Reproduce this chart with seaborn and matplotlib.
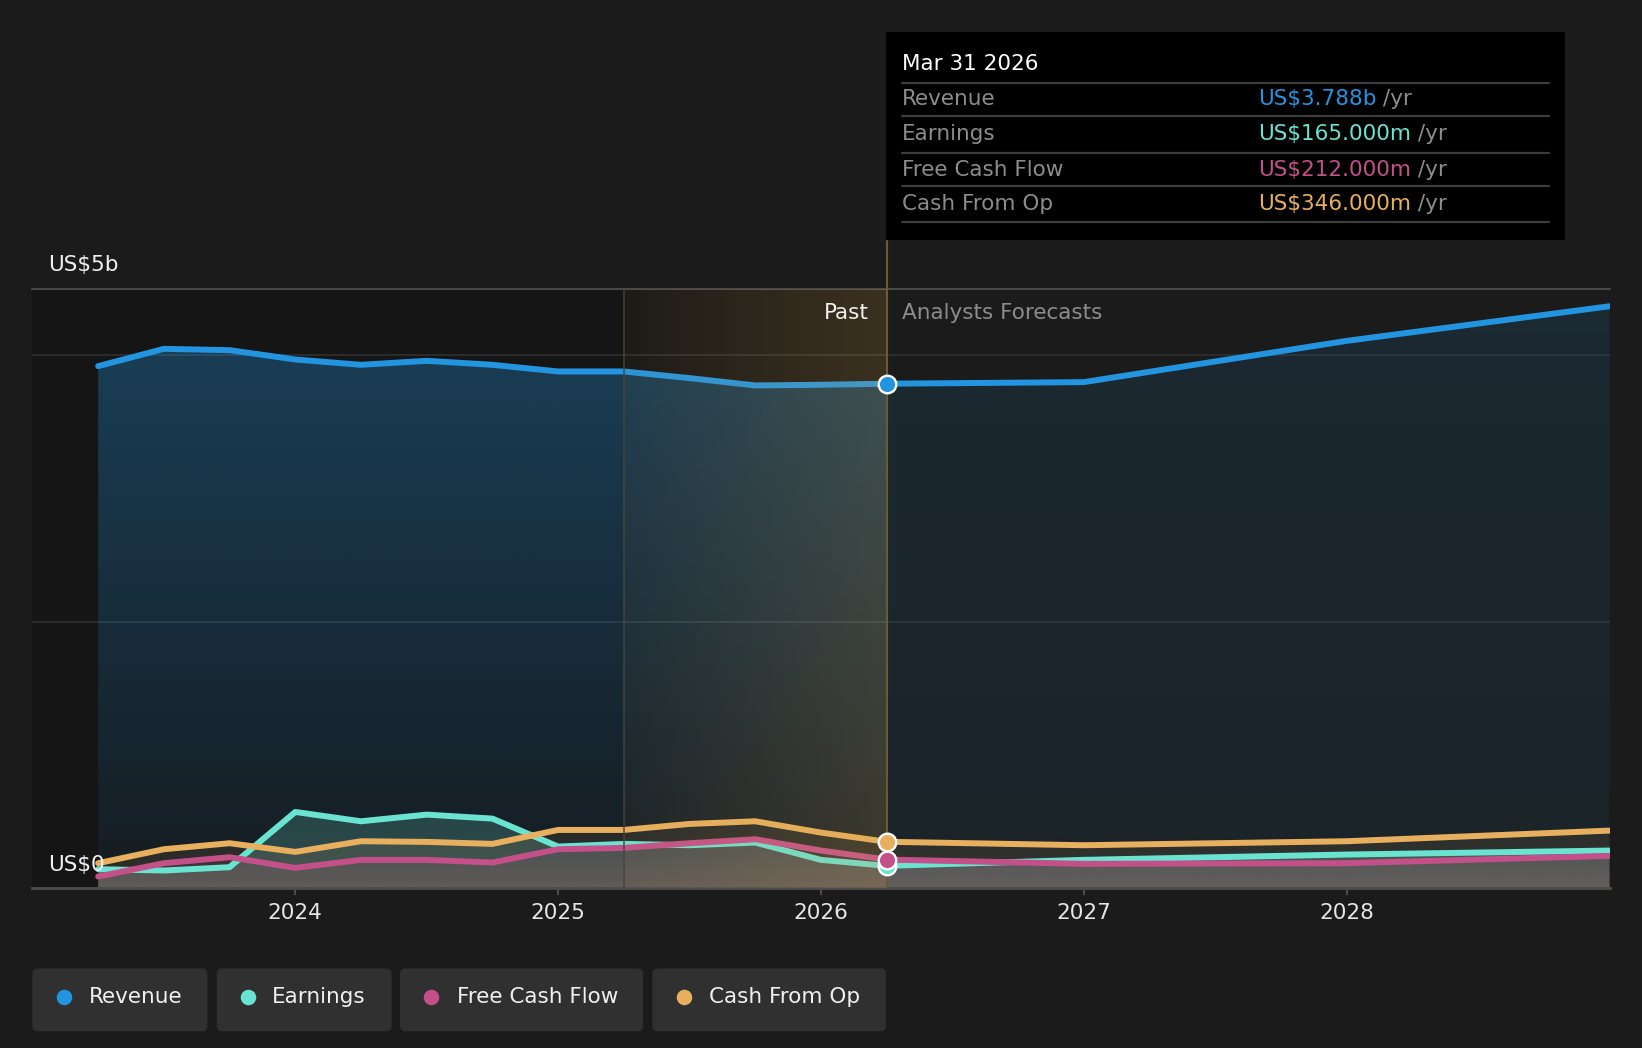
import numpy as np
import pandas as pd
import matplotlib
matplotlib.use("Agg")
import matplotlib.pyplot as plt
import matplotlib.colors as mcolors
from matplotlib.patches import Rectangle, FancyBboxPatch
import seaborn as sns

# ---------------- data (US$ billions) ----------------
past_x = [2023.25, 2023.5, 2023.75, 2024.0, 2024.25, 2024.5, 2024.75,
          2025.0, 2025.25, 2025.5, 2025.75, 2026.0, 2026.25]
fc_x = [2026.25, 2027.0, 2028.0, 2029.0]

revenue_past = [3.92, 4.05, 4.04, 3.97, 3.93, 3.96, 3.93, 3.88, 3.88, 3.83, 3.775, 3.78, 3.788]
earnings_past = [0.14, 0.13, 0.155, 0.57, 0.50, 0.55, 0.52, 0.31, 0.33, 0.32, 0.34, 0.21, 0.165]
fcf_past = [0.085, 0.185, 0.23, 0.15, 0.21, 0.21, 0.19, 0.29, 0.30, 0.335, 0.365, 0.28, 0.212]
cfo_past = [0.185, 0.29, 0.335, 0.27, 0.35, 0.345, 0.33, 0.435, 0.435, 0.48, 0.50, 0.415, 0.346]

revenue_fc = [3.788, 3.80, 4.11, 4.37]
earnings_fc = [0.165, 0.21, 0.25, 0.28]
fcf_fc = [0.212, 0.18, 0.185, 0.24]
cfo_fc = [0.346, 0.32, 0.35, 0.43]

series_names = ["Revenue", "Earnings", "Free Cash Flow", "Cash From Op"]
colors = {"Revenue": "#2394df", "Earnings": "#6be3d1",
          "Free Cash Flow": "#c4508a", "Cash From Op": "#e8b05e"}
tick_years = [2024, 2025, 2026, 2027, 2028]
tooltip_date = "Mar 31 2026"
tooltip_values = ["US$3.788b", "US$165.000m", "US$212.000m", "US$346.000m"]
y_top_label = "US$5b"
y_zero_label = "US$0"

past = {"Revenue": revenue_past, "Earnings": earnings_past,
        "Free Cash Flow": fcf_past, "Cash From Op": cfo_past}
fc = {"Revenue": revenue_fc, "Earnings": earnings_fc,
      "Free Cash Flow": fcf_fc, "Cash From Op": cfo_fc}

rows = []
for s in series_names:
    for x, v in zip(past_x, past[s]):
        rows.append((x, v, s))
    for x, v in zip(fc_x[1:], fc[s][1:]):
        rows.append((x, v, s))
df = pd.DataFrame(rows, columns=["date", "value", "series"])

# ---------------- style ----------------
BG = "#1b1b1b"
sns.set_theme(style="dark", rc={"axes.facecolor": BG, "figure.facecolor": BG})
plt.rcParams["font.family"] = ["DejaVu Sans"]

fig = plt.figure(figsize=(16.42, 10.48), dpi=100)
fig.patch.set_facecolor(BG)
W, H = 1568.0, 1001.0
ax = fig.add_axes([31 / W, 1 - 848 / H, (1537 - 31) / W, (848 - 276) / H])
ax.set_facecolor(BG)

XMIN, XMAX, YMAX = 2023.0, 2029.0, 4.5

# past dark region
ax.axvspan(XMIN, past_x[-1], color="#151515", zorder=0, lw=0)


def gradient_fill(x, y, color, a_top, a_bot, z):
    poly = ax.fill_between(x, 0, y, facecolor="none", edgecolor="none")
    rgb = mcolors.to_rgb(color)
    g = np.zeros((256, 1, 4))
    g[..., :3] = rgb
    g[..., 3] = np.linspace(a_top, a_bot, 256)[:, None]
    im = ax.imshow(g, aspect="auto", extent=[min(x), max(x), 0, max(y)],
                   origin="upper", zorder=z, interpolation="bilinear")
    im.set_clip_path(poly.get_paths()[0], transform=ax.transData)


# revenue fills
gradient_fill(past_x, revenue_past, colors["Revenue"], 0.32, 0.06, 1)
gradient_fill(fc_x, revenue_fc, colors["Revenue"], 0.12, 0.07, 1)
# small series fills
fill_alpha = {"Earnings": (0.2, 0.16), "Free Cash Flow": (0.1, 0.16),
              "Cash From Op": (0.07, 0.14)}
for s in ["Earnings", "Free Cash Flow", "Cash From Op"]:
    xs = past_x + fc_x[1:]
    ys = past[s] + fc[s][1:]
    gradient_fill(xs, ys, colors[s], fill_alpha[s][0], fill_alpha[s][1], 2)
# faint neutral glow at the very bottom
gradient_fill(past_x + fc_x[1:], earnings_past + earnings_fc[1:], "#ffffff", 0.0, 0.08, 2)

# lines
sns.lineplot(data=df, x="date", y="value", hue="series", hue_order=series_names,
             palette=colors, linewidth=4.3, legend=False, ax=ax, zorder=4,
             solid_joinstyle="round", solid_capstyle="round")

# highlighted band (last year of past)
band = np.zeros((1, 256, 4))
band[..., :3] = (0.85, 0.64, 0.3)
band[..., 3] = np.linspace(0.05, 0.2, 256)[None, :]
ax.imshow(band, aspect="auto", extent=[past_x[-5], past_x[-1], 0, YMAX],
          origin="upper", zorder=5, interpolation="bilinear")
ax.axvline(past_x[-5], color="#4a4436", lw=1.3, zorder=5, alpha=0.8)
ax.axvline(past_x[-1], ymin=0, ymax=(848 - 230) / (848 - 276), color="#6b5a36",
           lw=1.5, zorder=5, clip_on=False)

# markers at the tooltip date
for s in ["Revenue", "Cash From Op", "Earnings", "Free Cash Flow"]:
    ax.scatter([fc_x[0]], [fc[s][0]], s=160, color=colors[s], edgecolor="white",
               linewidth=1.7, zorder=7)

ax.set_xlim(XMIN, XMAX)
ax.set_ylim(0, YMAX)
ax.set_aspect("auto")
ax.set_xticks(tick_years)
ax.set_xticklabels([str(t) for t in tick_years])
ax.set_yticks([0, 2, 4])
ax.set_yticklabels([])
ax.grid(axis="y", color="#303030", lw=1.2)
ax.grid(axis="x", visible=False)
ax.tick_params(axis="x", colors="#e6e6e6", labelsize=15.5, length=5, width=1.2,
               pad=6, direction="out", bottom=True)
ax.tick_params(axis="x", color="#555555")
ax.tick_params(axis="y", length=0)
for sp in ["left", "right"]:
    ax.spines[sp].set_visible(False)
ax.spines["top"].set_color("#4d4d4d")
ax.spines["top"].set_linewidth(1.3)
ax.spines["bottom"].set_color("#4d4d4d")
ax.spines["bottom"].set_linewidth(2)
ax.set_xlabel("")
ax.set_ylabel("")

# ---------------- overlay (annotations, tooltip, legend) ----------------
ov = fig.add_axes([0, 0, 1, 1])
ov.set_xlim(0, W)
ov.set_ylim(H, 0)
ov.axis("off")
ov.patch.set_alpha(0)

FS = 15.5
ov.text(46, 253, y_top_label, color="#f0f0f0", fontsize=FS, va="center", ha="left")
ov.text(46, 826, y_zero_label, color="#f0f0f0", fontsize=FS, va="center", ha="left")
ov.text(830, 299, "Past", color="#f0f0f0", fontsize=FS, va="center", ha="right")
ov.text(861, 299, "Analysts Forecasts", color="#8c8c8c", fontsize=FS, va="center", ha="left")

# tooltip
ov.add_patch(Rectangle((846, 31), 648, 198, facecolor="#000000", edgecolor="none"))
ov.text(861, 61, tooltip_date, color="#ffffff", fontsize=FS, va="center", ha="left")
for yl in [79, 111, 146, 178, 212]:
    ov.plot([861, 1479], [yl, yl], color="#3d3d3d", lw=1.6)
for yr, name, val in zip([95, 128, 162, 195], series_names, tooltip_values):
    ov.text(861, yr, name, color="#8c8c8c", fontsize=FS, va="center", ha="left")
    t = ov.text(1201, yr, val, color=colors[name], fontsize=FS, va="center", ha="left")
    ov.annotate(" /yr", xy=(1, 0), xycoords=t, va="bottom", ha="left",
                color="#8c8c8c", fontsize=FS)

# legend chips
boxes = [(31, 198), (207, 374), (382, 614), (623, 846)]
dots = [61, 237, 412, 653]
texts_x = [85, 260, 436, 677]
for (x0, x1), dx, tx, name in zip(boxes, dots, texts_x, series_names):
    ov.add_patch(FancyBboxPatch((x0, 925), x1 - x0, 60,
                                boxstyle="round,pad=0,rounding_size=5",
                                facecolor="#303030", edgecolor="none"))
    ov.scatter([dx], [952], s=125, color=colors[name], zorder=3, linewidth=0)
    ov.text(tx, 952, name, color="#f0f0f0", fontsize=FS, va="center", ha="left")

fig.savefig("out.png", dpi=100, facecolor=BG)
